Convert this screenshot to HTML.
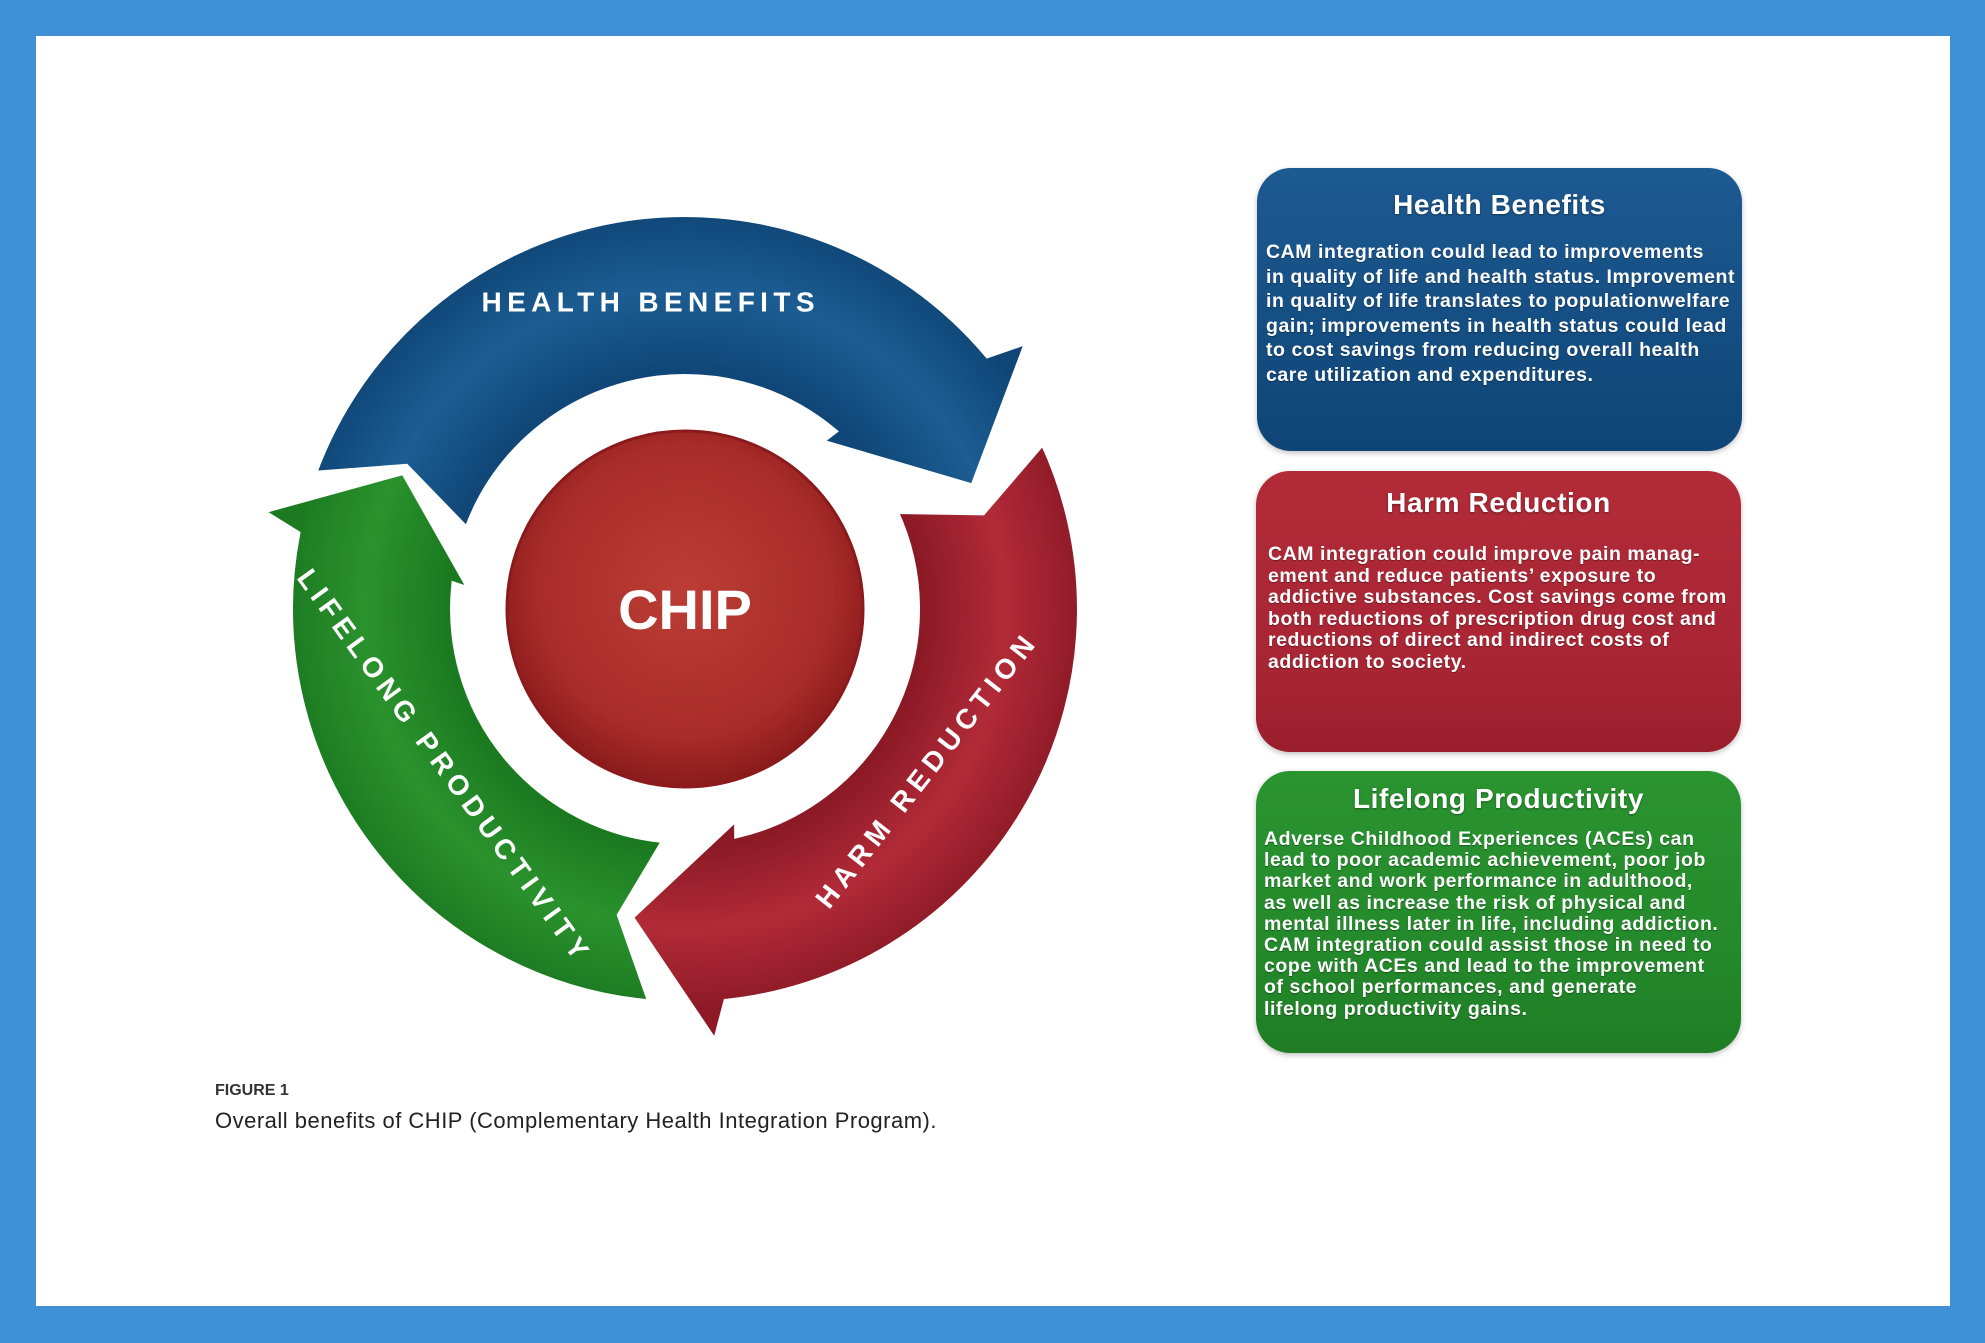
<!DOCTYPE html>
<html><head><meta charset="utf-8"><style>
html,body{margin:0;padding:0}
body{width:1985px;height:1343px;background:#3f90d4;position:relative;overflow:hidden;font-family:"Liberation Sans",sans-serif}
.page{position:absolute;left:36px;top:36px;width:1914px;height:1270px;background:#fff}
.box{position:absolute;border-radius:34px;color:#fff;box-sizing:border-box;box-shadow:0 2px 6px rgba(0,0,0,.25)}
.box h3{margin:0;text-align:center;font-size:28px;font-weight:bold;letter-spacing:0.6px;text-shadow:0 1px 2px rgba(0,0,0,.4)}
.box p{margin:0;font-weight:bold;font-size:19.5px;white-space:pre;letter-spacing:0.55px;text-shadow:0 1px 1px rgba(0,0,0,.35)}
.cap1{position:absolute;left:215px;top:1082px;font-size:16px;font-weight:bold;color:#333}
.cap2{position:absolute;left:215px;top:1108px;font-size:22px;letter-spacing:0.5px;color:#222}
</style></head><body>
<div class="page"></div>
<svg width="1985" height="1343" style="position:absolute;left:0;top:0">
<defs>
<radialGradient id="gc" cx="50%" cy="45%" r="55%"><stop offset="0" stop-color="#bb3d35"/><stop offset="0.75" stop-color="#a82c28"/><stop offset="1" stop-color="#8a1a1c"/></radialGradient>
<radialGradient id="gb" cx="685" cy="609" r="400" gradientUnits="userSpaceOnUse"><stop offset="0.6" stop-color="#104778"/><stop offset="0.8" stop-color="#1c5d92"/><stop offset="1" stop-color="#0f4677"/></radialGradient>
<radialGradient id="gr" cx="685" cy="609" r="400" gradientUnits="userSpaceOnUse"><stop offset="0.6" stop-color="#8c1a26"/><stop offset="0.8" stop-color="#b22a38"/><stop offset="1" stop-color="#8e1a27"/></radialGradient>
<radialGradient id="gg" cx="685" cy="609" r="400" gradientUnits="userSpaceOnUse"><stop offset="0.6" stop-color="#1b7a20"/><stop offset="0.8" stop-color="#2a922d"/><stop offset="1" stop-color="#1c7a21"/></radialGradient>
</defs>
<g stroke="#fff" stroke-width="6" stroke-linejoin="miter">
<path fill="url(#gb)" d="M 313.8 473.9 A 395 395 0 0 1 987.6 355.1 L 1027.8 341.2 L 973.1 486.7 L 820.3 441.9 L 834.1 431.3 A 232 232 0 0 0 467.0 529.7 L 406.1 466.9 Z"/>
<path fill="url(#gr)" d="M 1043.0 442.1 A 395 395 0 0 1 726.3 1001.8 L 715.4 1042.9 L 630.7 917.2 L 737.0 817.6 L 737.2 835.1 A 232 232 0 0 0 895.3 511.0 L 982.7 512.3 Z"/>
<path fill="url(#gg)" d="M 650.6 1002.5 A 395 395 0 0 1 297.3 533.6 L 261.1 511.1 L 403.7 471.8 L 470.8 590.3 L 454.3 584.8 A 232 232 0 0 0 664.8 840.1 L 619.9 915.2 Z"/>
</g>
<circle cx="685" cy="609" r="178" fill="url(#gc)" stroke="#8a1a1c" stroke-width="3"/>
<text x="685" y="629" text-anchor="middle" font-family="Liberation Sans" font-weight="bold" font-size="56" fill="#fff">CHIP</text>
<g font-family="Liberation Sans" font-weight="bold" font-size="28" fill="#fff" text-anchor="middle" dominant-baseline="central" lengthAdjust="spacing">
<text transform="translate(648,302)" textLength="333" lengthAdjust="spacing">HEALTH BENEFITS</text>
<text transform="translate(925,772) rotate(-52)" textLength="336" lengthAdjust="spacing">HARM REDUCTION</text>
<text transform="translate(443,764) rotate(54)" textLength="474" lengthAdjust="spacing">LIFELONG PRODUCTIVITY</text>
</g>
</svg>
<div class="box" style="left:1257px;top:168px;width:485px;height:283px;background:linear-gradient(#1d5a92,#134b7e 70%,#0f4576)">
<h3 style="margin-top:21px">Health Benefits</h3>
<p style="margin:19px 0 0 9px;line-height:24.5px">CAM integration could lead to improvements
in quality of life and health status. Improvement
in quality of life translates to populationwelfare
gain; improvements in health status could lead
to cost savings from reducing overall health
care utilization and expenditures.</p></div>
<div class="box" style="left:1256px;top:471px;width:485px;height:281px;background:linear-gradient(#b22b39,#a82533 70%,#9a1e2c)">
<h3 style="margin-top:16px">Harm Reduction</h3>
<p style="margin:25px 0 0 12px;line-height:21.5px">CAM integration could improve pain manag-
ement and reduce patients’ exposure to
addictive substances. Cost savings come from
both reductions of prescription drug cost and
reductions of direct and indirect costs of
addiction to society.</p></div>
<div class="box" style="left:1256px;top:771px;width:485px;height:282px;background:linear-gradient(#2a9430,#23882a 70%,#1f7d25)">
<h3 style="margin-top:12px">Lifelong Productivity</h3>
<p style="margin:14px 0 0 8px;line-height:21.2px">Adverse Childhood Experiences (ACEs) can
lead to poor academic achievement, poor job
market and work performance in adulthood,
as well as increase the risk of physical and
mental illness later in life, including addiction.
CAM integration could assist those in need to
cope with ACEs and lead to the improvement
of school performances, and generate
lifelong productivity gains.</p></div>
<div class="cap1">FIGURE 1</div>
<div class="cap2">Overall benefits of CHIP (Complementary Health Integration Program).</div>
</body></html>
